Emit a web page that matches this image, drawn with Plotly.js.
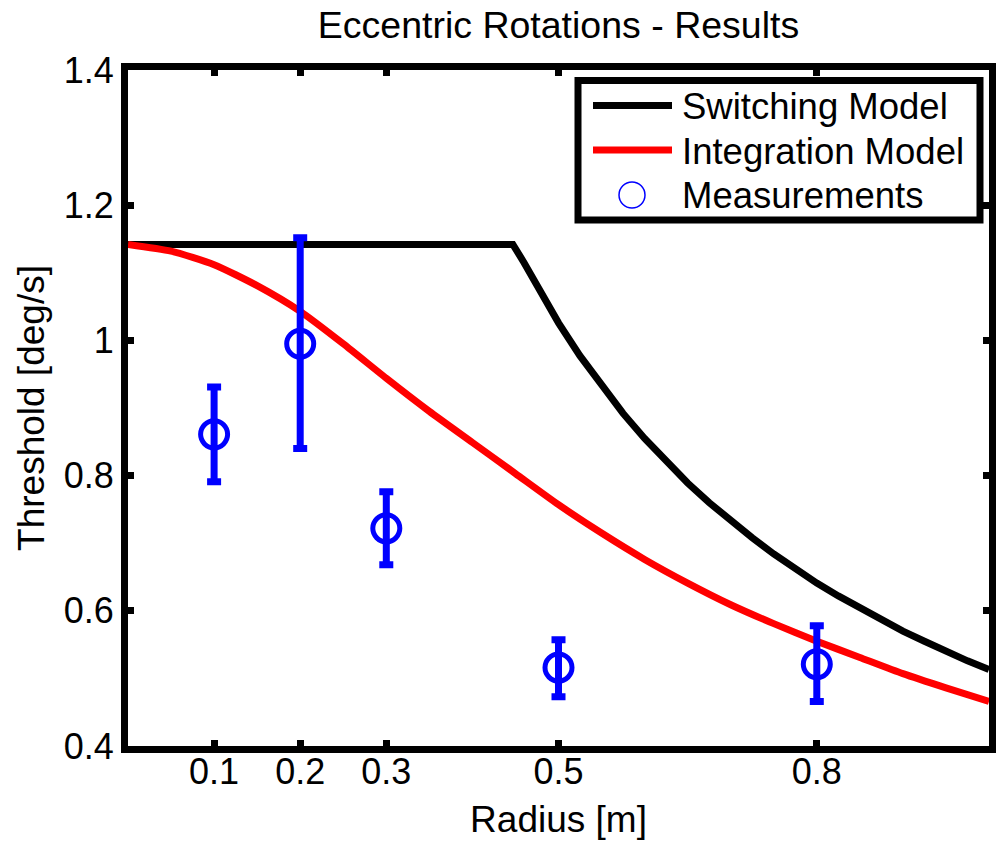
<!DOCTYPE html>
<html>
<head>
<meta charset="utf-8">
<script src="https://cdn.plot.ly/plotly-3.0.1.min.js"></script>
<style>
  html, body { margin: 0; padding: 0; background: #ffffff; }
  #chart { width: 1000px; height: 841px; }
</style>
</head>
<body>
<div id="chart"></div>
<script>
// ---- data ----
const seriesNames = ["Switching Model", "Integration Model", "Measurements"];

const switchRadius = [0, 0.447, 0.46, 0.475, 0.5, 0.525, 0.55, 0.575, 0.6, 0.625, 0.65, 0.675, 0.7, 0.725, 0.75, 0.775, 0.8, 0.825, 0.85, 0.875, 0.9, 0.925, 0.95, 0.975, 1.0];
const switchThreshold = [1.142, 1.142, 1.115, 1.080, 1.026, 0.977, 0.933, 0.892, 0.855, 0.821, 0.789, 0.760, 0.733, 0.708, 0.684, 0.662, 0.641, 0.622, 0.604, 0.586, 0.570, 0.555, 0.540, 0.526, 0.513];

const integRadius = [0, 0.05, 0.1, 0.15, 0.2, 0.25, 0.3, 0.35, 0.4, 0.45, 0.5, 0.55, 0.6, 0.65, 0.7, 0.75, 0.8, 0.85, 0.9, 0.95, 1.0];
const integThreshold = [1.142, 1.132, 1.112, 1.081, 1.043, 0.995, 0.944, 0.895, 0.849, 0.803, 0.757, 0.715, 0.676, 0.641, 0.609, 0.581, 0.555, 0.531, 0.507, 0.486, 0.466];

const measRadius = [0.1, 0.2, 0.3, 0.5, 0.8];
const measThreshold = [0.861, 0.995, 0.722, 0.516, 0.521];
const measErrPlus = [0.070, 0.157, 0.054, 0.041, 0.057];
const measErrMinus = [0.070, 0.155, 0.054, 0.043, 0.055];

const xTickVals = [0.1, 0.2, 0.3, 0.5, 0.8];
const xTickText = ["0.1", "0.2", "0.3", "0.5", "0.8"];
const yTickVals = [0.4, 0.6, 0.8, 1.0, 1.2, 1.4];
const yTickText = ["0.4", "0.6", "0.8", "1", "1.2", "1.4"];

const titleText = "Eccentric Rotations - Results";
const xTitle = "Radius [m]";
const yTitle = "Threshold [deg/s]";

// ---- styling / layout geometry ----
const FONT = "'Liberation Sans', Arial, Helvetica, sans-serif";
const BLUE = "#0000ff";
const seriesColors = ["#000000", "#ff0000", BLUE];

const W = 1000, H = 841;
const M = { l: 128, r: 11, t: 70, b: 95 };
const PW = W - M.l - M.r, PH = H - M.t - M.b;
const px2x = p => (p - M.l) / PW;          // pixel -> paper x
const px2y = p => 1 - (p - M.t) / PH;      // pixel -> paper y

// ---- traces ----
const traces = [
  {
    x: switchRadius, y: switchThreshold, name: seriesNames[0],
    type: "scatter", mode: "lines", showlegend: false,
    line: { color: seriesColors[0], width: 7 }
  },
  {
    x: integRadius, y: integThreshold, name: seriesNames[1],
    type: "scatter", mode: "lines", showlegend: false,
    line: { color: seriesColors[1], width: 7, shape: "spline", smoothing: 0.6 }
  },
  {
    x: measRadius, y: measThreshold, name: seriesNames[2],
    type: "scatter", mode: "markers", showlegend: false,
    marker: { symbol: "circle-open", size: 27, color: BLUE, line: { color: BLUE, width: 5 } },
    error_y: {
      type: "data", symmetric: false,
      array: measErrPlus, arrayminus: measErrMinus,
      color: BLUE, thickness: 7, width: 7
    }
  }
];

// ---- legend drawn as a boxed key (MATLAB style) ----
const legBox = { x0: 578, x1: 980, y0: 80.5, y1: 220 };
const legRows = [105.5, 150, 195];
const shapes = [
  {
    type: "rect", xref: "paper", yref: "paper", layer: "above",
    x0: px2x(legBox.x0), x1: px2x(legBox.x1), y0: px2y(legBox.y1), y1: px2y(legBox.y0),
    fillcolor: "#ffffff", line: { color: "#000000", width: 7 }
  },
  {
    type: "line", xref: "paper", yref: "paper", layer: "above",
    x0: px2x(593), x1: px2x(672), y0: px2y(legRows[0]), y1: px2y(legRows[0]),
    line: { color: seriesColors[0], width: 7 }
  },
  {
    type: "line", xref: "paper", yref: "paper", layer: "above",
    x0: px2x(593), x1: px2x(672), y0: px2y(legRows[1]), y1: px2y(legRows[1]),
    line: { color: seriesColors[1], width: 7 }
  },
  {
    type: "circle", xref: "paper", yref: "paper", layer: "above",
    x0: px2x(632 - 13), x1: px2x(632 + 13), y0: px2y(legRows[2] + 13), y1: px2y(legRows[2] - 13),
    line: { color: seriesColors[2], width: 1.5 }
  }
];
const annotations = seriesNames.map((name, i) => ({
  text: name, showarrow: false, xref: "paper", yref: "paper",
  x: px2x(680), y: px2y(legRows[i] + 1), xanchor: "left", yanchor: "middle",
  font: { family: FONT, size: 36.5, color: "#000000" }
}));

const axisCommon = {
  showgrid: false, zeroline: false,
  showline: true, linecolor: "#000000", linewidth: 7,
  mirror: "ticks", ticks: "inside", ticklen: 6, tickwidth: 7, tickcolor: "#000000",
  tickfont: { family: FONT, size: 36, color: "#000000" }
};

const layout = {
  width: W, height: H,
  margin: M,
  paper_bgcolor: "#ffffff", plot_bgcolor: "#ffffff",
  font: { family: FONT, color: "#000000" },
  title: {
    text: titleText, font: { family: FONT, size: 37.5, color: "#000000" },
    x: 0.5, xref: "paper", xanchor: "center",
    y: 1 - 25 / H, yref: "container", yanchor: "middle"
  },
  xaxis: Object.assign({}, axisCommon, {
    range: [0, 1],
    tickmode: "array", tickvals: xTickVals, ticktext: xTickText,
    ticklabelstandoff: -12,
    title: { text: xTitle, font: { family: FONT, size: 37, color: "#000000" }, standoff: 17 }
  }),
  yaxis: Object.assign({}, axisCommon, {
    range: [0.4, 1.4],
    tickmode: "array", tickvals: yTickVals, ticktext: yTickText,
    title: { text: yTitle, font: { family: FONT, size: 37, color: "#000000" }, standoff: 10 }
  }),
  shapes: shapes,
  annotations: annotations,
  showlegend: false
};

Plotly.newPlot("chart", traces, layout, { displayModeBar: false, staticPlot: true });
</script>
</body>
</html>
